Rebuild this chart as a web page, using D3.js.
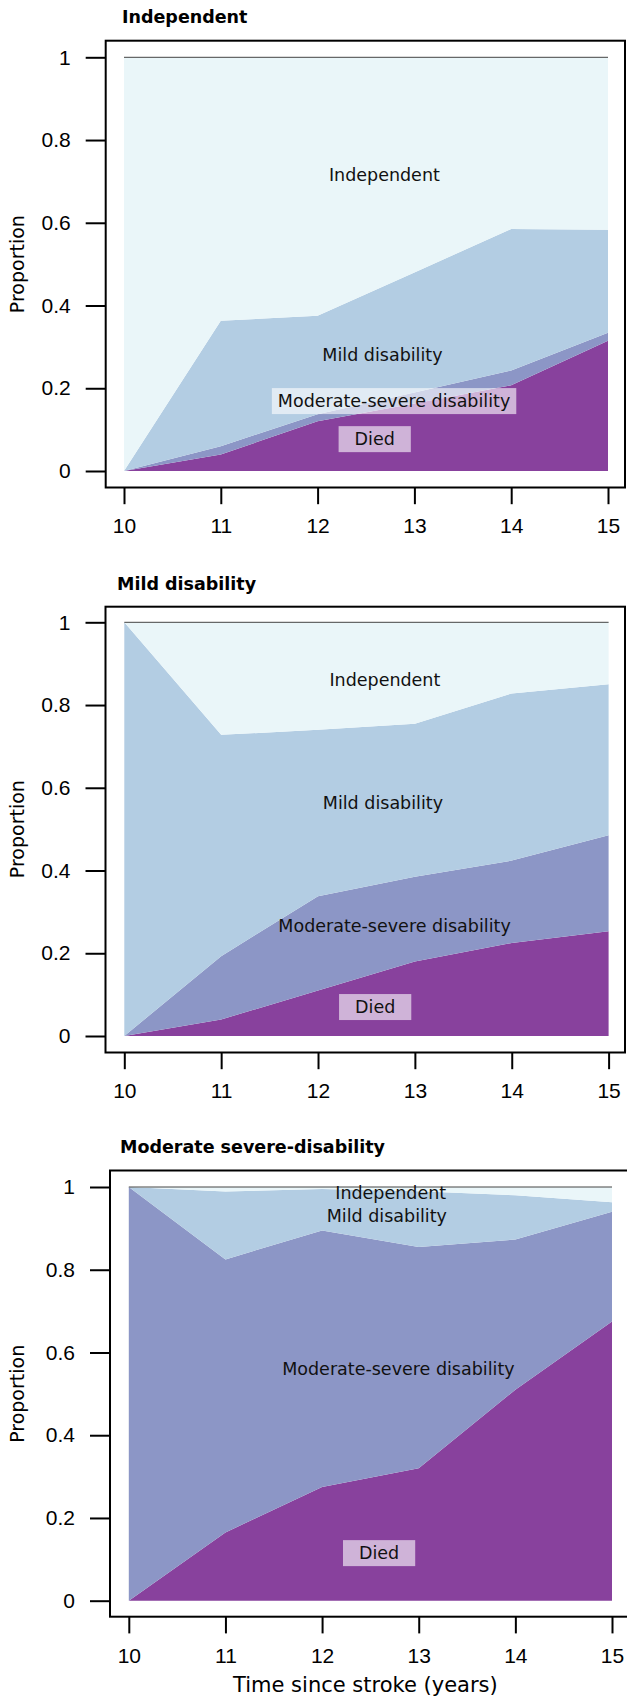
<!DOCTYPE html>
<html>
<head>
<meta charset="utf-8">
<script src="https://cdn.jsdelivr.net/npm/d3@7"></script>
<style>
  body { margin: 0; background: #fff; }
  svg { display: block; }
</style>
</head>
<body>
<svg id="chart" width="627" height="1699"></svg>
<script>
// ---------------- DATA ----------------
const years = [10, 11, 12, 13, 14, 15];
const states = ["Died", "Moderate-severe disability", "Mild disability", "Independent"];
const panelTitles = ["Independent", "Mild disability", "Moderate severe-disability"];
const yTickValues = [0, 0.2, 0.4, 0.6, 0.8, 1];
const yTickLabels = ["0", "0.2", "0.4", "0.6", "0.8", "1"];

// Panel 1: starting state Independent (proportions in each state)
const p1Died   = [0, 0.040, 0.120, 0.163, 0.207, 0.315];
const p1ModSev = [0, 0.020, 0.017, 0.027, 0.036, 0.019];
const p1Mild   = [0, 0.303, 0.238, 0.290, 0.342, 0.249];
const p1Indep  = [1, 0.637, 0.625, 0.520, 0.415, 0.417];

// Panel 2: starting state Mild disability
const p2Died   = [0, 0.040, 0.110, 0.180, 0.225, 0.253];
const p2ModSev = [0, 0.153, 0.228, 0.205, 0.199, 0.232];
const p2Mild   = [1, 0.535, 0.402, 0.370, 0.404, 0.365];
const p2Indep  = [0, 0.272, 0.260, 0.245, 0.172, 0.150];

// Panel 3: starting state Moderate-severe disability
const p3Died   = [0, 0.165, 0.275, 0.320, 0.510, 0.675];
const p3ModSev = [1, 0.660, 0.620, 0.535, 0.363, 0.265];
const p3Mild   = [0, 0.164, 0.100, 0.135, 0.107, 0.023];
const p3Indep  = [0, 0.011, 0.005, 0.010, 0.020, 0.037];

// In-plot state labels: [text, year, proportion, boxed]
const p1Labels = [["Independent", 12.69, 0.716, false], ["Mild disability", 12.67, 0.280, false],
                  ["Moderate-severe disability", 12.79, 0.169, true], ["Died", 12.59, 0.077, true]];
const p2Labels = [["Independent", 12.69, 0.860, false], ["Mild disability", 12.67, 0.563, false],
                  ["Moderate-severe disability", 12.79, 0.266, false], ["Died", 12.59, 0.070, true]];
const p3Labels = [["Independent", 12.71, 0.985, false], ["Mild disability", 12.67, 0.930, false],
                  ["Moderate-severe disability", 12.79, 0.561, false], ["Died", 12.59, 0.115, true]];

// ---------------- STYLE / LAYOUT ----------------
const colors = { "Died": "#88419d", "Moderate-severe disability": "#8c96c6",
                 "Mild disability": "#b3cde3", "Independent": "#eaf6f9" };
const layouts = [
  { titleX: 122, titleY: 23,   boxL: 105.7, boxT: 40.7,   boxR: 625, boxB: 487.5,  x0: 124,   x1: 608,   y1: 57.3,  y0: 471 },
  { titleX: 117, titleY: 590,  boxL: 105.5, boxT: 606.7,  boxR: 625, boxB: 1052.5, x0: 124.3, x1: 608.6, y1: 622.3, y0: 1036 },
  { titleX: 120, titleY: 1153, boxL: 110,   boxT: 1170.5, boxR: 629, boxB: 1616.7, x0: 128.8, x1: 612,   y1: 1187,  y0: 1600.7 }
];
const panels = [
  { died: p1Died, modsev: p1ModSev, mild: p1Mild, indep: p1Indep, labels: p1Labels },
  { died: p2Died, modsev: p2ModSev, mild: p2Mild, indep: p2Indep, labels: p2Labels },
  { died: p3Died, modsev: p3ModSev, mild: p3Mild, indep: p3Indep, labels: p3Labels }
];

const svg = d3.select("#chart");
const labelFont = "'DejaVu Sans', sans-serif";
const tickFont = "'Liberation Sans', Arial, sans-serif";

panels.forEach((p, i) => {
  const L = layouts[i];
  const x = d3.scaleLinear().domain([10, 15]).range([L.x0, L.x1]);
  const y = d3.scaleLinear().domain([0, 1]).range([L.y0, L.y1]);
  const g = svg.append("g");

  const rows = years.map((yr, k) => ({
    year: yr,
    "Died": p.died[k],
    "Moderate-severe disability": p.modsev[k],
    "Mild disability": p.mild[k],
    "Independent": p.indep[k]
  }));
  const stacked = d3.stack().keys(states)(rows);
  const area = d3.area()
    .x(d => x(d.data.year))
    .y0(d => y(d[0]))
    .y1(d => y(d[1]));

  g.selectAll("path.layer").data(stacked).join("path")
    .attr("class", "layer")
    .attr("d", area)
    .attr("fill", d => colors[d.key]);

  // top line at proportion 1
  g.append("line")
    .attr("x1", x(10)).attr("x2", x(15))
    .attr("y1", y(1)).attr("y2", y(1))
    .attr("stroke", "#444").attr("stroke-width", 1);

  // state labels
  p.labels.forEach(([txt, yr, pr, boxed]) => {
    const t = g.append("text")
      .attr("x", x(yr)).attr("y", y(pr))
      .attr("text-anchor", "middle")
      .attr("dy", "0.35em")
      .attr("font-family", labelFont)
      .attr("font-size", 17.5)
      .attr("fill", "#111")
      .text(txt);
    if (boxed) {
      const bb = t.node().getBBox();
      const padX = txt === "Died" ? 16 : 6;
      g.insert("rect", () => t.node())
        .attr("x", bb.x - padX).attr("width", bb.width + 2 * padX)
        .attr("y", y(pr) - 13).attr("height", 26)
        .attr("fill", "#ffffff").attr("fill-opacity", 0.6);
    }
  });

  // box
  g.append("rect")
    .attr("x", L.boxL).attr("y", L.boxT)
    .attr("width", L.boxR - L.boxL).attr("height", L.boxB - L.boxT)
    .attr("fill", "none").attr("stroke", "#000").attr("stroke-width", 2);

  // y axis
  const ya = g.append("g").attr("transform", `translate(${L.boxL},0)`)
    .call(d3.axisLeft(y).tickValues(yTickValues)
      .tickFormat((d, k) => yTickLabels[k]).tickSize(20).tickPadding(15));
  ya.select(".domain").remove();
  ya.selectAll("line").attr("stroke", "#000").attr("stroke-width", 2);
  ya.selectAll("text").attr("font-family", tickFont).attr("font-size", 21).attr("fill", "#000");

  // x axis
  const xa = g.append("g").attr("transform", `translate(0,${L.boxB})`)
    .call(d3.axisBottom(x).tickValues(years).tickFormat(d3.format("d")).tickSize(16.7));
  xa.select(".domain").remove();
  xa.selectAll("line").attr("stroke", "#000").attr("stroke-width", 2);
  xa.selectAll("text").attr("font-family", tickFont).attr("font-size", 21).attr("fill", "#000")
    .attr("y", L.y0 + 62 - L.boxB).attr("dy", 0);

  // y title
  g.append("text")
    .attr("transform", `translate(24,${(L.y0 + L.y1) / 2}) rotate(-90)`)
    .attr("text-anchor", "middle")
    .attr("font-family", labelFont).attr("font-size", 19)
    .text("Proportion");

  // panel title
  g.append("text")
    .attr("x", L.titleX).attr("y", L.titleY)
    .attr("font-family", labelFont).attr("font-weight", "bold").attr("font-size", 17.5)
    .text(panelTitles[i]);

  if (i === 2) {
    g.append("text")
      .attr("x", (L.x0 + L.x1) / 2 - 5).attr("y", 1692)
      .attr("text-anchor", "middle")
      .attr("font-family", labelFont).attr("font-size", 21)
      .text("Time since stroke (years)");
  }
});
</script>
</body>
</html>
